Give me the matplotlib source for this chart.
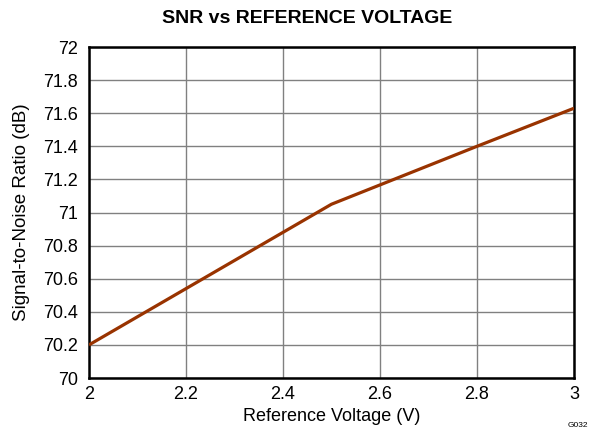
import matplotlib
matplotlib.use("Agg")
import matplotlib.pyplot as plt

plt.rcParams['font.family'] = ['Liberation Sans', 'DejaVu Sans']

ref_voltage = [2.0, 2.2, 2.4, 2.5, 2.8, 3.0]
snr_db = [70.2, 70.54, 70.88, 71.05, 71.40, 71.63]

x_ticks = [2, 2.2, 2.4, 2.6, 2.8, 3]
x_tick_labels = ["2", "2.2", "2.4", "2.6", "2.8", "3"]
y_ticks = [70, 70.2, 70.4, 70.6, 70.8, 71, 71.2, 71.4, 71.6, 71.8, 72]
y_tick_labels = ["70", "70.2", "70.4", "70.6", "70.8", "71", "71.2", "71.4", "71.6", "71.8", "72"]

fig = plt.figure(figsize=(5.89, 4.34), dpi=100)
ax = fig.add_axes([0.151, 0.129, 0.8235, 0.7627])

ax.plot(ref_voltage, snr_db, color="#993300", linewidth=2.3, solid_capstyle="butt", zorder=3)

ax.set_xlim(2, 3)
ax.set_ylim(70, 72)
ax.set_xticks(x_ticks)
ax.set_xticklabels(x_tick_labels)
ax.set_yticks(y_ticks)
ax.set_yticklabels(y_tick_labels)
ax.tick_params(axis="x", length=0, labelsize=13, pad=6, colors="black")
ax.tick_params(axis="y", length=0, labelsize=13, pad=8, colors="black")

ax.grid(True, color="#808080", linewidth=1.0)
ax.set_axisbelow(True)
for side in ax.spines.values():
    side.set_color("black")
    side.set_linewidth(1.8)

ax.set_xlabel("Reference Voltage (V)", fontsize=13, labelpad=3)
ax.set_ylabel("Signal-to-Noise Ratio (dB)", fontsize=13.5, labelpad=9)
fig.text(0.521, 0.958, "SNR vs REFERENCE VOLTAGE", ha="center", va="center",
         fontsize=14, fontweight="bold")
fig.text(0.998, 0.02, "G032", fontsize=6, ha="right", va="center")

fig.savefig("out.png", dpi=100)
